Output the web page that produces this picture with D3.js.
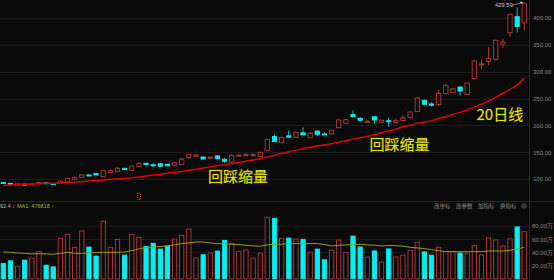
<!DOCTYPE html>
<html>
<head>
<meta charset="utf-8">
<script src="https://cdn.jsdelivr.net/npm/d3@7/dist/d3.min.js"></script>
<style>
  html, body { margin: 0; padding: 0; background: #0a0a0a; overflow: hidden; }
  svg { display: block; }
</style>
</head>
<body>
<div id="chart"></div>
<script>
// daily candles
var opens = [93.5, 92, 90, 90.5, 89.5, 91, 93, 91.5, 92, 94.5, 99.5, 102.5, 107.5, 110, 104.3, 111.7, 114.4, 120, 116, 123,
  129.5, 126.5, 128.5, 127.5, 126, 127, 139.8, 142.3, 141, 139.5, 143, 136.7, 131.7, 143.8, 144.5, 144.5, 141.6, 152.7, 179, 167.6,
  180.5, 177.7, 186, 177, 189.4, 184, 184, 195.6, 203.8, 220, 213, 206.5, 216, 205.6, 208.5, 205, 208.7, 214.3, 226, 246.7,
  240, 239, 259, 261.5, 271.4, 257.8, 287, 313.5, 319, 323, 351.6, 372.6, 402.4, 391];
var highs = [93.8, 92.5, 91.5, 91, 91.5, 95, 93.5, 92, 96.5, 102, 104.5, 109, 108.5, 110.5, 116, 117.5, 122, 120.5, 124.5, 131,
  130, 129.5, 129, 128, 132.5, 139.5, 146, 145.5, 141.5, 142, 144.5, 139, 145, 146.5, 148, 147.5, 150.5, 175, 182.5, 178,
  191, 188, 196.7, 186, 190.5, 187.5, 192, 211, 211.5, 228, 215.5, 209.5, 216.5, 210.5, 214.5, 213, 219, 226, 252, 247.5,
  243, 265.5, 277.5, 270, 272.5, 280, 321, 323, 346, 359.5, 361, 408, 420, 429.59];
var lows = [91.5, 90, 89.5, 88.5, 89, 90.5, 91.5, 89.5, 91.5, 94, 99, 102, 105.5, 107, 104, 111, 114, 117, 115.5, 122.5,
  124.5, 122.5, 123, 124, 125.5, 126.5, 137, 141.5, 136.8, 138, 137.5, 130, 131, 142.5, 142.5, 142.5, 141, 152, 169, 167,
  177.5, 177, 181.5, 176, 180.5, 182, 183, 195, 202, 215.5, 206.5, 205, 202.5, 205, 197, 204.5, 208, 213.5, 225, 238.5,
  235.5, 236.5, 258, 260.5, 255.5, 257, 286, 305, 312, 322, 344.7, 365, 373, 377.6];
var closes = [91.8, 90.5, 90.8, 88.8, 90.8, 93.5, 92.3, 90, 96, 101.3, 102.5, 107.5, 106.5, 107.5, 115.5, 115.5, 120, 117.5, 124, 128.5,
  127, 125.8, 123.7, 124.5, 130, 137, 145.3, 144.7, 137.3, 140.5, 138, 133, 144, 144.5, 145.3, 145.2, 149.8, 174, 169.6, 177,
  178, 187, 182, 185.2, 183.3, 182.5, 191, 210, 210.5, 216, 209.4, 207.5, 210, 209.4, 207.5, 208.6, 213.8, 225, 251, 239.2,
  237.5, 259.7, 274, 268, 264, 278.9, 320, 314.5, 325, 358.5, 355.3, 407, 384, 426.7];
// 20 day average of close
var ma20 = [88.4, 89, 89.7, 90.2, 90.6, 91.3, 92, 92.1, 92.7, 93.2, 94.2, 95.1, 96.1, 97.1, 98.1, 99.6, 100.2, 101.1, 102.1, 103.8,
  105.5, 107.3, 109, 110.7, 112.4, 114.1, 116.1, 118.2, 120.4, 122.7, 124.9, 126.7, 128.4, 130.9, 133.2, 135.2, 138.1, 141.2, 144.2, 147.5,
  150.5, 153.8, 157, 159.4, 161.8, 163.7, 165.6, 168.7, 171.4, 174.3, 176.9, 179.3, 182.8, 186.3, 189.9, 192.8, 197.2, 200.2, 203.8, 206.2,
  208.8, 212.6, 216.1, 220.5, 224.2, 228.7, 234, 239.2, 245.5, 252.2, 259.8, 267, 275.5, 288];
// volume in 万
var volumes = [23.4, 27.4, 19.3, 28.4, 31.4, 41.6, 20.8, 18.2, 61.3, 67.4, 47.7, 72.4, 48.2, 34.5, 87.2, 47.7, 59.8, 36, 67.4, 62.9,
  49.2, 53.8, 45.1, 49.7, 60.3, 65.9, 75.5, 31.4, 36.5, 39, 42.1, 58.3, 53.8, 41.6, 43.6, 31.4, 39, 93.2, 91.7, 61.3,
  61.8, 60.3, 59.8, 40.5, 45.1, 28.9, 43.6, 58.8, 40.1, 64.8, 48.2, 33, 42.3, 25.6, 45.3, 33.2, 35.8, 43.3, 55.5, 40.8,
  35.8, 47.9, 41.2, 41.2, 39.2, 38.8, 50.3, 36.2, 62, 59, 49.8, 60.5, 78.6, 71.5];
var volMA = [40.7, 40.2, 39.2, 38.7, 37.7, 38.2, 37.7, 37.2, 38.7, 40.2, 38.7, 38.7, 39.2, 39.7, 40.2, 40.2, 40.2, 40.7, 42.7, 45.3,
  47.3, 48.3, 48.8, 49.9, 51.4, 53.4, 54.4, 55.9, 55.9, 54.4, 53.4, 52.9, 52.4, 51.9, 50.9, 49.9, 49.4, 51.4, 52.4, 52.4,
  53.4, 53.4, 53.4, 53.4, 53.4, 51.9, 49.9, 50.9, 51.4, 51.9, 52.4, 51.4, 50.9, 49.9, 50.4, 50.4, 49.4, 47.8, 46.8, 45.8,
  44.3, 42.7, 41.2, 41.2, 41.2, 41.2, 41.2, 41.2, 42.2, 42.2, 42.2, 43.2, 45.3, 47.8];
var priceTicks = [100, 150, 200, 250, 300, 350, 400];
var volTicks = [20, 40, 60, 80];
var menuItems = ["改坐标", "改参数", "加指标", "换指标"];

var width = 554, height = 280;
var axisX = 529;
var upColor = "#b83a3a", downColor = "#00f0f0";

var svg = d3.select("#chart")
  .append("svg")
  .attr("width", width)
  .attr("height", height)
  .style("background", "#0a0a0a");

var days = d3.range(opens.length);
var x = d3.scalePoint().domain(days).range([3.3, 524.3]);
var bw = x.step() * 0.6;
var y = d3.scaleLinear().domain([100, 400]).range([179, 18]);
var yv = d3.scaleLinear().domain([0, 80]).range([278.9, 226]);

// grid lines
svg.append("g").selectAll("line")
  .data(priceTicks)
  .enter()
  .append("line")
  .attr("x1", 0).attr("x2", axisX)
  .attr("y1", function (d) { return Math.round(y(d)) + 0.5; })
  .attr("y2", function (d) { return Math.round(y(d)) + 0.5; })
  .attr("stroke", "#1c1c1c");

svg.append("g").selectAll("line")
  .data(volTicks)
  .enter()
  .append("line")
  .attr("x1", 0).attr("x2", axisX)
  .attr("y1", function (d) { return Math.round(yv(d)) + 0.5; })
  .attr("y2", function (d) { return Math.round(yv(d)) + 0.5; })
  .attr("stroke", "#161616");

// panel separator + right axis line
svg.append("line")
  .attr("x1", 0).attr("x2", width)
  .attr("y1", 201.5).attr("y2", 201.5)
  .attr("stroke", "#262626");
svg.append("line")
  .attr("x1", axisX + 0.5).attr("x2", axisX + 0.5)
  .attr("y1", 0).attr("y2", height)
  .attr("stroke", "#2a2a2a");

// right axes
var yAxis = d3.axisRight(y)
  .tickValues(priceTicks)
  .tickSize(0)
  .tickPadding(4)
  .tickFormat(function (d) { return d.toFixed(2); });
var gy = svg.append("g")
  .attr("transform", "translate(" + axisX + ",0)")
  .call(yAxis);

var vAxis = d3.axisRight(yv)
  .tickValues(volTicks)
  .tickSize(0)
  .tickPadding(3)
  .tickFormat(function (d) { return d.toFixed(2) + "万"; });
var gv = svg.append("g")
  .attr("transform", "translate(" + axisX + ",0)")
  .call(vAxis);

[gy, gv].forEach(function (g) {
  g.select(".domain").remove();
  g.selectAll("text")
    .attr("fill", "#8a8a8a")
    .style("font-family", "'Liberation Sans', Arial, sans-serif")
    .style("font-size", "6px");
});

// candles
var candle = svg.append("g")
  .selectAll("g")
  .data(days)
  .enter()
  .append("g");

candle.append("line")
  .attr("x1", function (i) { return x(i); })
  .attr("x2", function (i) { return x(i); })
  .attr("y1", function (i) { return y(highs[i]); })
  .attr("y2", function (i) { return y(lows[i]); })
  .attr("stroke", function (i) { return closes[i] >= opens[i] ? upColor : "#00bcbc"; })
  .attr("stroke-width", 1);

candle.append("rect")
  .attr("x", function (i) { return x(i) - bw / 2; })
  .attr("y", function (i) { return y(Math.max(opens[i], closes[i])); })
  .attr("width", bw)
  .attr("height", function (i) { return Math.max(1, Math.abs(y(opens[i]) - y(closes[i]))); })
  .attr("fill", function (i) { return closes[i] >= opens[i] ? "#0a0a0a" : downColor; })
  .attr("stroke", function (i) { return closes[i] >= opens[i] ? upColor : downColor; })
  .attr("stroke-width", 0.9);

// 20 day line
var line = d3.line()
  .x(function (d, i) { return x(i); })
  .y(function (d) { return y(d); })
  .curve(d3.curveMonotoneX);
svg.append("path")
  .datum(ma20)
  .attr("d", line)
  .attr("fill", "none")
  .attr("stroke", "#e00000")
  .attr("stroke-width", 1.5);

// volume bars
svg.append("g")
  .selectAll("rect")
  .data(days)
  .enter()
  .append("rect")
  .attr("x", function (i) { return x(i) - bw / 2; })
  .attr("y", function (i) { return yv(volumes[i]); })
  .attr("width", bw)
  .attr("height", function (i) { return yv(0) - yv(volumes[i]); })
  .attr("fill", function (i) { return closes[i] >= opens[i] ? "#0a0a0a" : downColor; })
  .attr("stroke", function (i) { return closes[i] >= opens[i] ? upColor : downColor; })
  .attr("stroke-width", 0.9);

var vline = d3.line()
  .x(function (d, i) { return x(i); })
  .y(function (d) { return yv(d); });
svg.append("path")
  .datum(volMA)
  .attr("d", vline)
  .attr("fill", "none")
  .attr("stroke", "#9c9c10")
  .attr("stroke-width", 1);

// max price label
var last = opens.length - 1;
svg.append("text")
  .attr("x", 513)
  .attr("y", 7)
  .attr("text-anchor", "end")
  .attr("fill", "#c8c8c8")
  .style("font-family", "'Liberation Sans', Arial, sans-serif")
  .style("font-size", "6px")
  .text(highs[last].toFixed(2));
svg.append("line")
  .attr("x1", 513).attr("y1", 5)
  .attr("x2", x(last) - 2).attr("y2", y(highs[last]) + 0.5)
  .attr("stroke", "#c8c8c8")
  .attr("stroke-width", 0.6);
svg.append("path")
  .attr("d", "M" + (x(last) - 1) + "," + (y(highs[last]) + 0.3) + "l-3,-1.2l0.6,2.6z")
  .attr("fill", "#e8e8e8");

// little event marker under candle 20
svg.append("rect")
  .attr("x", x(19) - 1.5)
  .attr("y", 193)
  .attr("width", 3)
  .attr("height", 6.5)
  .attr("fill", "none")
  .attr("stroke", "#d04848")
  .attr("stroke-width", 1)
  .attr("stroke-dasharray", "1,1");

// annotations
var noteStyle = function (sel) {
  sel.attr("fill", "#e6e600")
    .attr("stroke", "#5a5a00")
    .attr("stroke-width", 0.4)
    .style("paint-order", "stroke")
    .style("font-family", "'Noto Sans CJK SC', sans-serif")
    .style("font-size", "15px");
};
svg.append("text").attr("x", 208).attr("y", 181.5).text("回踩缩量").call(noteStyle);
svg.append("text").attr("x", 369.5).attr("y", 150).text("回踩缩量").call(noteStyle);
svg.append("text").attr("x", 476.5).attr("y", 120).text("20日线").call(noteStyle);

// volume panel header
svg.append("text")
  .attr("x", 0).attr("y", 208)
  .attr("fill", "#bdbdbd")
  .style("font-family", "'Liberation Sans', Arial, sans-serif")
  .style("font-size", "5.5px")
  .text("62.4 ↓");
svg.append("text")
  .attr("x", 17).attr("y", 208)
  .attr("fill", "#b4b428")
  .style("font-family", "'Liberation Sans', Arial, sans-serif")
  .style("font-size", "5.5px")
  .text("MA1: 476818 ↑");

svg.append("g")
  .selectAll("text")
  .data(menuItems)
  .enter()
  .append("text")
  .attr("x", function (d, i) { return 434 + i * 22; })
  .attr("y", 208)
  .attr("fill", "#8a8a8a")
  .style("font-family", "'Noto Sans CJK SC', sans-serif")
  .style("font-size", "5.5px")
  .text(function (d) { return d; });
svg.append("circle")
  .attr("cx", 524).attr("cy", 206)
  .attr("r", 2.2)
  .attr("fill", "none")
  .attr("stroke", "#8a8a8a")
  .attr("stroke-width", 0.6);
svg.append("circle")
  .attr("cx", 524).attr("cy", 206)
  .attr("r", 0.7)
  .attr("fill", "#8a8a8a");
</script>
</body>
</html>
